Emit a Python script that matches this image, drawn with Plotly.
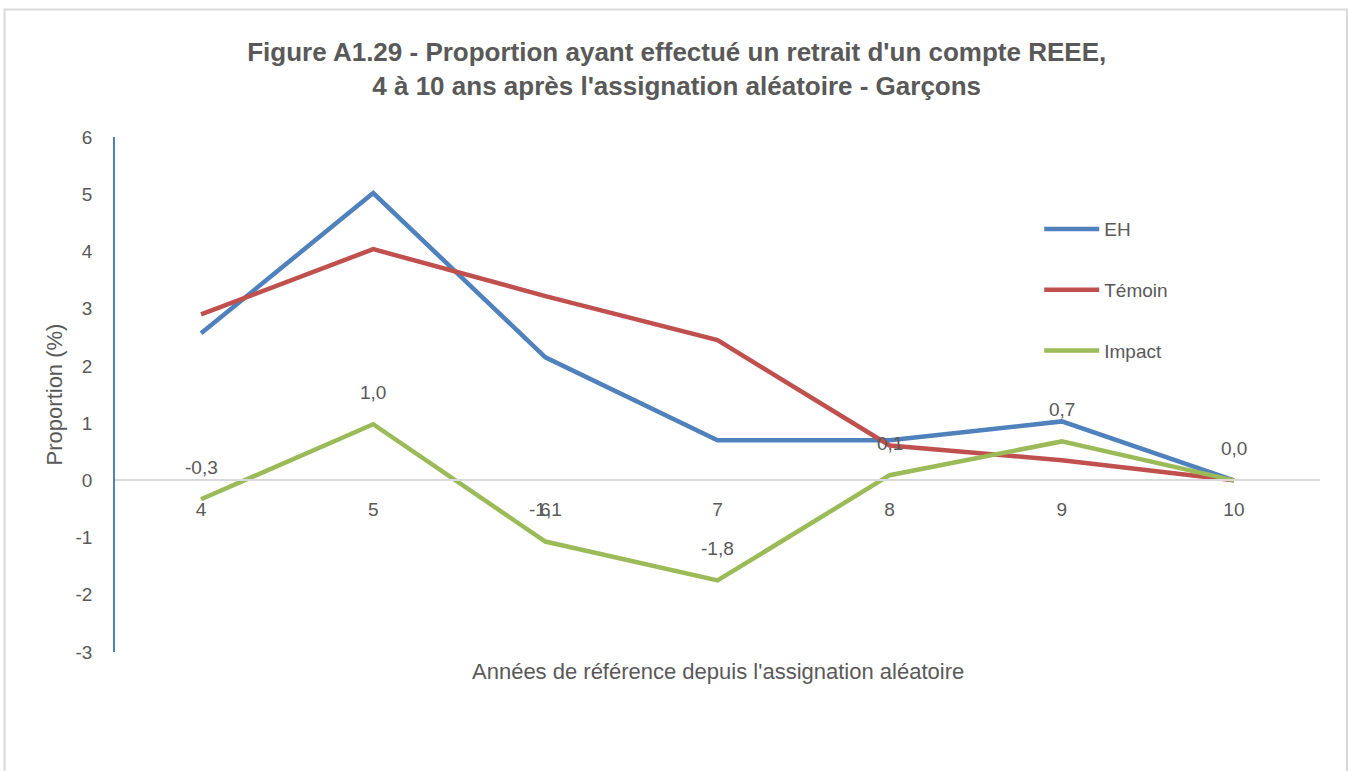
import plotly.graph_objects as go

# Data
years = ['4', '5', '6', '7', '8', '9', '10']
eh = [2.57, 5.02, 2.15, 0.70, 0.70, 1.03, 0.0]
temoin = [2.90, 4.04, 3.22, 2.45, 0.61, 0.35, 0.0]
impact = [-0.33, 0.98, -1.07, -1.75, 0.09, 0.68, 0.0]
impact_labels = ['-0,3', '1,0', '-1,1', '-1,8', '0,1', '0,7', '0,0']
y_ticks = [-3, -2, -1, 0, 1, 2, 3, 4, 5, 6]
y_tick_labels = ['-3', '-2', '-1', '0', '1', '2', '3', '4', '5', '6']

font_family = 'Liberation Sans Narrow, Arial Narrow, Liberation Sans, Arial'
grey = '#595959'

fig = go.Figure()

series = [
    ('EH', eh, '#4F81BD'),
    ('Témoin', temoin, '#C0504D'),
    ('Impact', impact, '#9BBB59'),
]
for name, vals, col in series:
    fig.add_trace(go.Scatter(
        x=years, y=vals, name=name, mode='lines',
        line=dict(color=col, width=4.5),
        legendgroup=name,
    ))

# data labels on the impact series (category index on x)
for i, (y, t) in enumerate(zip(impact, impact_labels)):
    fig.add_annotation(x=i, y=y, text=t, showarrow=False, yshift=32,
                       font=dict(size=19, color=grey, family=font_family))

# x axis title sits well below the plot, like in the original
fig.add_annotation(xref='paper', yref='paper', x=0.5, y=-0.0388,
                   xanchor='center', yanchor='middle', showarrow=False,
                   text="Années de référence depuis l'assignation aléatoire",
                   font=dict(size=22, color=grey, family=font_family))

# chart frame
fig.add_shape(type='rect', xref='paper', yref='paper',
              x0=-0.0917, x1=1.0224, y0=-0.26, y1=1.2476,
              line=dict(color='#D9D9D9', width=2), layer='below')

fig.update_layout(
    width=1348, height=771,
    margin=dict(l=115, r=28, t=137, b=119),
    paper_bgcolor='white', plot_bgcolor='white',
    font=dict(family=font_family, color=grey, size=18),
    title=dict(
        text="<b>Figure A1.29 - Proportion ayant effectué un retrait d'un compte REEE,<br>4 à 10 ans après l'assignation aléatoire - Garçons</b>",
        x=0.502, xanchor='center', y=1 - 61 / 771, yanchor='middle',
        font=dict(size=26, color=grey, family=font_family),
    ),
    xaxis=dict(
        type='category', range=[-0.5, 6.5],
        anchor='free', position=1 / 3,
        showline=True, linecolor='#D9D9D9', linewidth=1.5,
        showgrid=False, zeroline=False,
        ticks='outside', ticklen=12, tickcolor='rgba(0,0,0,0)',
        tickfont=dict(size=19, color=grey),
    ),
    yaxis=dict(
        range=[-3, 6], tickvals=y_ticks, ticktext=y_tick_labels,
        showline=True, linecolor='#4F81BD', linewidth=1.5,
        showgrid=False, zeroline=False,
        ticks='outside', ticklen=17, tickcolor='rgba(0,0,0,0)',
        tickfont=dict(size=19, color=grey),
        title=dict(text='Proportion (%)', font=dict(size=22, color=grey), standoff=7),
    ),
    legend=dict(
        x=0.767, xanchor='left', y=0.858, yanchor='top',
        bgcolor='rgba(0,0,0,0)', tracegroupgap=33,
        font=dict(size=19, color=grey), itemwidth=55,
    ),
)

fig.write_html('out.html', config={'displayModeBar': False},
               post_script="document.body.style.margin='0';document.body.style.overflow='hidden';")
